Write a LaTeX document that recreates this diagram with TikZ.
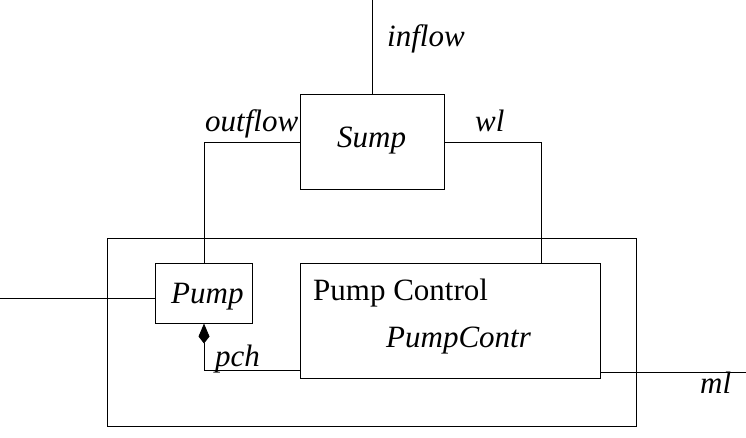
\documentclass[tikz,border=0pt]{standalone}
\usepackage{fontspec}
\setmainfont{Liberation Serif}
\usetikzlibrary{arrows.meta}
\begin{document}
\begin{tikzpicture}[x=1pt,y=1pt,
  box/.style={draw,line width=1pt,minimum width=#1,inner sep=0pt},
  conn/.style={draw,line width=1pt},
  lbl/.style={anchor=base west,inner sep=0pt,font=\fontsize{31}{35}\selectfont\itshape},
  ulbl/.style={anchor=base west,inner sep=0pt,font=\fontsize{31}{35}\selectfont}]
\useasboundingbox (0,0) rectangle (746,-438);
% boxes
\node[box=144pt,minimum height=95pt] (sump) at (372,-142.5) {};
\node[box=529pt,minimum height=188pt] (outer) at (371.5,-332.5) {};
\node[box=97pt,minimum height=60pt] (pump) at (204,-293) {};
\node[box=300pt,minimum height=115pt] (pc) at (450,-320.5) {};
% texts
\node[lbl] (tsump) at (337,-148) {Sump};
\node[lbl] (tpump) at (171,-303) {Pump};
\node[ulbl] (tpc) at (313,-300) {Pump Control};
\node[lbl] (tpcn) at (386,-347) {PumpContr};
\node[lbl] (tin) at (387,-47) {inflow};
\node[lbl] (tout) at (205,-132) {outflow};
\node[lbl] (twl) at (475,-132) {wl};
\node[lbl] (tpch) at (215,-366) {pch};
\node[lbl] (tml) at (700,-393) {ml};
% connectors
\coordinate (intop) at (372,0);
\coordinate (leftin) at (0,-298);
\coordinate (mlend) at (746,-372);
\coordinate (wlcol) at (541,-263);
\coordinate (pchy) at (300,-370);
\path[conn] (intop) -- (sump.north);
\path[conn] (sump.west) -| (pump.north);
\path[conn] (sump.east) -| (wlcol);
\path[conn] (leftin) -- (leftin -| pump.west);
\path[conn,-{Kite[length=20pt,width=11pt,inset=7pt]}] (pchy) -| (pump.south);
\path[conn] (mlend -| pc.east) -- (mlend);
\end{tikzpicture}
\end{document}
